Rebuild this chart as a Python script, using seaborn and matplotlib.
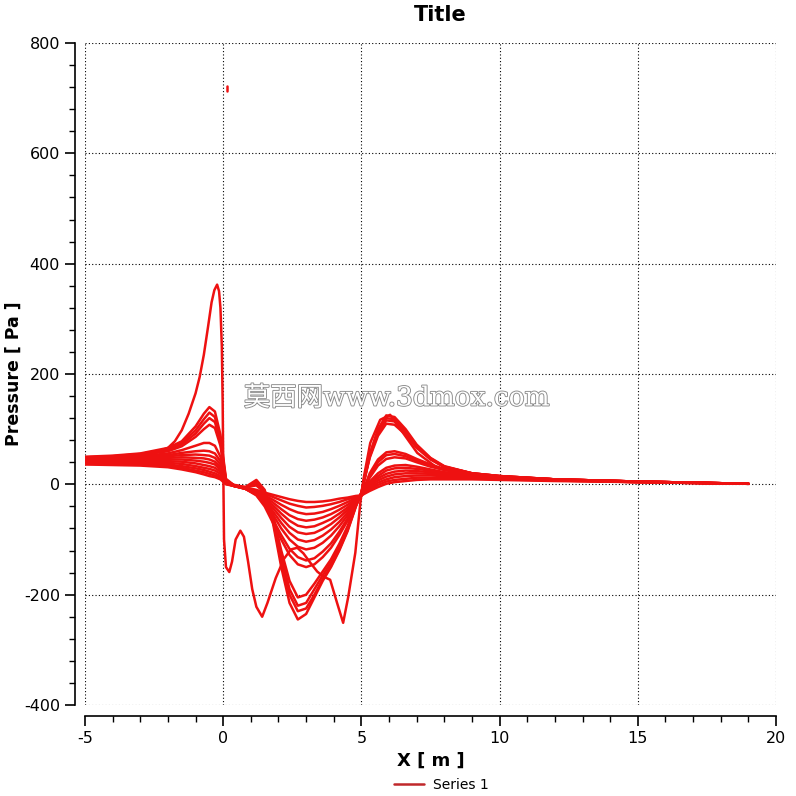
import numpy as np
import pandas as pd
import matplotlib
matplotlib.use("Agg")
import matplotlib.pyplot as plt
import matplotlib.patheffects as pe
from matplotlib.lines import Line2D
from matplotlib.ticker import MultipleLocator
import seaborn as sns

# ---------------- data ----------------
title = "Title"
x_label = "X [ m ]"
y_label = "Pressure [ Pa ]"
series_name = "Series 1"
watermark = "莫西网www.3dmox.com"

x_ticks = [-5, 0, 5, 10, 15, 20]
y_ticks = [-400, -200, 0, 200, 400, 600, 800]

# curve with the large upstream peak
curve_a_x = [-5, -4, -3, -2.5, -2, -1.75, -1.5, -1.25, -1.0, -0.85, -0.7, -0.55, -0.42,
             -0.32, -0.22, -0.15, -0.1, -0.05, -0.02, 0.0, 0.03, 0.1, 0.22, 0.32, 0.45,
             0.62, 0.75, 0.9, 1.05, 1.2, 1.41, 1.6, 1.9, 2.2, 2.45, 2.68, 2.9, 3.15, 3.4,
             3.62, 3.87, 4.12, 4.34, 4.52, 4.78, 4.96, 5.07, 5.32, 5.68, 6.04, 6.51,
             7.02, 7.74, 8.57, 9.19, 10, 12, 15, 19]
curve_a_y = [47, 48, 52, 57, 66, 78, 98, 128, 165, 195, 235, 285, 330,
             352, 362, 350, 320, 250, 150, 40, -100, -150, -159, -140, -100,
             -84, -95, -140, -190, -222, -240, -215, -170, -135, -118, -115, -125, -142, -158,
             -167, -173, -215, -251, -205, -124, -34, 8, 75, 117, 126, 93,
             57, 30, 20, 17, 14, 9, 5, 1]

# family of smoother curves, shared x positions
family_x = [-5, -4, -3, -2, -1.5, -1, -0.7, -0.5, -0.3, -0.1, 0.1,
            0.4, 0.8, 1.2, 1.5, 1.8, 2.1, 2.4, 2.7, 3.0, 3.3, 3.6, 3.9, 4.2, 4.5, 4.8, 5.0,
            5.3, 5.6, 5.9, 6.2, 6.6, 7.0, 7.5, 8, 9, 10, 12, 15, 19]

curve_b1 = [50, 52, 56, 66, 78, 105, 128, 140, 132, 90, 10,
            -2, -5, 8, -10, -70, -150, -215, -245, -235, -205, -175, -150, -120, -85, -40, -15,
            55, 100, 125, 122, 100, 72, 48, 33, 20, 15, 9, 5, 1]
curve_b2 = [49, 51, 55, 64, 75, 98, 118, 130, 122, 82, 8,
            -2, -6, 5, -12, -65, -140, -200, -230, -225, -200, -172, -148, -118, -83, -40, -15,
            52, 96, 120, 118, 97, 70, 47, 32, 20, 15, 9, 5, 1]
curve_b3 = [48, 50, 54, 62, 72, 92, 110, 120, 113, 76, 6,
            -2, -6, 2, -13, -60, -130, -190, -220, -215, -190, -165, -142, -113, -80, -38, -15,
            50, 93, 116, 114, 94, 68, 46, 32, 20, 15, 9, 5, 1]
curve_b4 = [47, 49, 53, 60, 69, 86, 100, 108, 102, 70, 5,
            -1, -5, -2, -15, -55, -120, -175, -205, -200, -180, -158, -136, -108, -76, -36, -15,
            48, 88, 110, 108, 90, 66, 45, 31, 20, 15, 9, 5, 1]
curve_b5 = [46, 48, 51, 56, 62, 70, 75, 75, 70, 50, 5,
            -3, -8, -20, -40, -70, -100, -128, -145, -150, -145, -132, -115, -92, -66, -38, -20,
            20, 45, 58, 60, 55, 46, 36, 28, 19, 14, 9, 5, 1]
curve_b6 = [45, 47, 49, 53, 57, 60, 61, 60, 56, 42, 4,
            -3, -8, -19, -37, -64, -92, -117, -132, -138, -134, -122, -107, -86, -62, -36, -20,
            16, 40, 53, 55, 51, 43, 34, 27, 19, 14, 9, 5, 1]
curve_b7 = [44, 46, 48, 51, 53, 54, 53, 52, 48, 36, 4,
            -3, -8, -18, -33, -55, -80, -100, -113, -118, -115, -106, -93, -76, -56, -34, -20,
            12, 34, 46, 49, 47, 40, 32, 26, 18, 14, 9, 5, 1]
curve_b8 = [43, 45, 46, 48, 49, 48, 47, 45, 41, 31, 3,
            -3, -8, -17, -30, -49, -70, -88, -100, -104, -101, -93, -82, -68, -51, -32, -20,
            5, 20, 30, 34, 35, 32, 27, 22, 17, 13, 8, 5, 1]
curve_b9 = [42, 43, 44, 45, 45, 43, 41, 39, 36, 27, 3,
            -3, -8, -16, -28, -43, -61, -77, -87, -90, -88, -81, -72, -60, -46, -30, -20,
            2, 15, 25, 29, 30, 28, 25, 21, 16, 13, 8, 5, 1]
curve_b10 = [41, 42, 42, 42, 41, 38, 35, 33, 30, 23, 2,
             -3, -7, -15, -25, -38, -53, -66, -75, -78, -76, -70, -63, -53, -42, -29, -20,
             0, 11, 19, 23, 25, 24, 22, 19, 15, 12, 8, 4, 1]
curve_b11 = [40, 40, 40, 39, 37, 33, 30, 28, 25, 19, 2,
             -3, -7, -14, -22, -33, -45, -56, -63, -66, -64, -60, -54, -46, -37, -27, -20,
             -3, 7, 14, 18, 20, 20, 19, 17, 14, 11, 8, 4, 1]
curve_b12 = [38, 38, 38, 36, 33, 29, 26, 23, 20, 15, 1,
             -3, -7, -13, -20, -28, -37, -45, -51, -54, -53, -50, -45, -39, -32, -25, -20,
             -6, 3, 9, 13, 15, 16, 16, 15, 13, 10, 7, 4, 1]
curve_b13 = [37, 37, 36, 33, 30, 25, 22, 19, 16, 12, 1,
             -3, -6, -11, -17, -23, -29, -35, -39, -42, -41, -39, -36, -32, -27, -23, -20,
             -9, -1, 5, 8, 10, 12, 12, 12, 11, 9, 7, 4, 1]
curve_b14 = [36, 35, 34, 31, 27, 22, 18, 15, 13, 9, 0,
             -3, -6, -10, -15, -19, -23, -27, -30, -32, -32, -31, -29, -26, -24, -21, -20,
             -12, -5, 1, 4, 6, 8, 9, 9, 9, 8, 6, 4, 1]

# stray short mark near the top
stray_x = [0.15, 0.15]
stray_y = [713, 722]

# ---------------- build long table ----------------
frames = [pd.DataFrame({"x": curve_a_x, "y": curve_a_y, "curve": "a"})]
family = [curve_b1, curve_b2, curve_b3, curve_b4, curve_b5, curve_b6, curve_b7,
          curve_b8, curve_b9, curve_b10, curve_b11, curve_b12, curve_b13, curve_b14]
for i, ys in enumerate(family):
    frames.append(pd.DataFrame({"x": family_x, "y": ys, "curve": f"b{i+1}"}))
frames.append(pd.DataFrame({"x": stray_x, "y": stray_y, "curve": "stray"}))
df = pd.concat(frames, ignore_index=True)

# ---------------- figure ----------------
sns.set_style("white")
plt.rcParams["font.family"] = ["DejaVu Sans"]
plt.rcParams["axes.unicode_minus"] = False
plt.rcParams["text.color"] = "black"
plt.rcParams["axes.labelcolor"] = "black"

W = H = 796
fig = plt.figure(figsize=(W / 100, H / 100), dpi=100)
ax = fig.add_axes([85 / W, 1 - 705 / H, (776 - 85) / W, (705 - 43) / H])

red = "#ee1111"
sns.lineplot(data=df, x="x", y="y", units="curve", estimator=None, sort=False,
             color=red, linewidth=1.8, ax=ax, legend=False)

ax.set_xlim(-5, 20)
ax.set_ylim(-400, 800)
ax.set_xticks(x_ticks)
ax.set_yticks(y_ticks)
ax.xaxis.set_minor_locator(MultipleLocator(1))
ax.yaxis.set_minor_locator(MultipleLocator(40))

ax.grid(True, which="major", color="black", linestyle=(0, (1, 2)), linewidth=0.8)
ax.set_axisbelow(True)

for s in ["top", "right"]:
    ax.spines[s].set_visible(False)
ax.spines["left"].set_position(("outward", 7))
ax.spines["bottom"].set_position(("outward", 8))
for s in ["left", "bottom"]:
    ax.spines[s].set_color("black")
    ax.spines[s].set_linewidth(1.2)

ax.tick_params(axis="both", which="both", bottom=True, left=True, top=False, right=False)
ax.tick_params(axis="both", which="major", direction="out", length=7, width=1.2,
               labelsize=11.5, colors="black", labelcolor="black", pad=4)
ax.tick_params(axis="both", which="minor", direction="out", length=4, width=1.0,
               colors="black")

ax.set_xlabel(x_label, fontsize=13, fontweight="bold", labelpad=4, color="black")
ax.set_ylabel("")
fig.text(14 / W, 1 - 374 / H, y_label, rotation=90, ha="center", va="center",
         fontsize=12.5, fontweight="bold", color="black")

fig.text(440 / W, 1 - 15 / H, title, ha="center", va="center",
         fontsize=15, fontweight="bold", color="black")

# watermark
fig.text(397 / W, 1 - 398 / H, watermark, ha="center", va="center", fontsize=19,
         color="white", family=["DejaVu Serif", "Noto Sans CJK SC"],
         path_effects=[pe.withStroke(linewidth=1.3, foreground="#8a8a8a")], zorder=5)

handle = Line2D([0], [0], color="#c0282b", linewidth=1.8)
leg = fig.legend([handle], [series_name], loc="center", bbox_to_anchor=(441 / W, 1 - 785 / H),
                 frameon=False, fontsize=10, handlelength=2.2, handletextpad=0.6)
for t in leg.get_texts():
    t.set_color("black")

fig.savefig("out.png", dpi=100)
